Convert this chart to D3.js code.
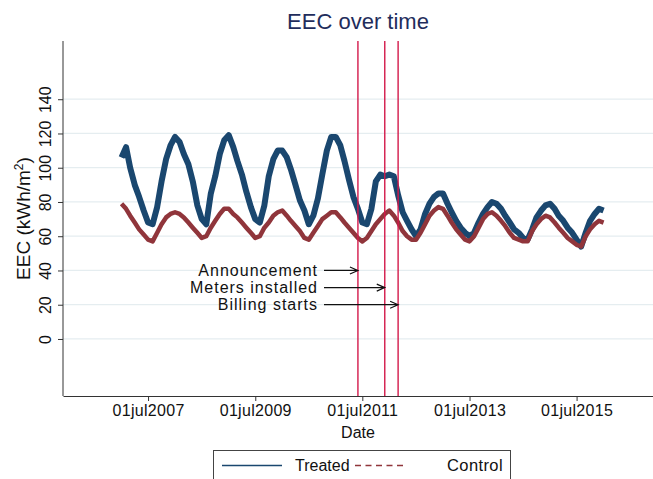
<!DOCTYPE html>
<html>
<head>
<meta charset="utf-8">
<script src="https://cdn.jsdelivr.net/npm/d3@7"></script>
<style>
  body { margin: 0; background: #fff; }
  svg { font-family: "Liberation Sans", Arial, sans-serif; }
</style>
</head>
<body>
<svg id="chart" width="653" height="479"></svg>
<script>
// Monthly EEC readings (kWh/m2), first of each month from Jan 2007 to Jan 2016
const startYear = 2007;
const treated = [
    106, 112, 100, 90, 83, 75, 68, 67, 77, 92, 105, 113,
    118, 115, 108, 102, 92, 78, 70, 67, 85, 95, 108, 116,
    119, 112, 104, 96, 86, 77, 70, 68, 78, 95, 105, 110,
    110, 106, 99, 90, 81, 75, 67, 72, 82, 96, 110, 118,
    118, 113, 104, 93, 83, 76, 68, 67, 76, 92, 96, 95,
    96, 95, 84, 74, 69, 64, 60, 64, 73, 79, 83, 85,
    85, 79, 74, 69, 65, 62, 60, 62, 68, 73, 77, 80,
    79, 76, 72, 68, 64, 62, 59, 58, 64, 71, 75, 78,
    79, 76, 72, 69, 65, 62, 58, 54, 62, 69, 73, 76,
    75
];
const control = [
    79, 76, 72, 68, 64, 61, 58, 57, 62, 67, 71, 73,
    74, 73, 71, 68, 65, 62, 59, 60, 65, 69, 73, 76,
    76, 73, 71, 68, 65, 62, 59, 60, 65, 68, 72, 74,
    75, 72, 69, 66, 63, 59, 58, 62, 66, 70, 72, 74,
    74, 71, 68, 65, 62, 59, 57, 59, 63, 67, 70, 73,
    75, 72, 68, 63, 60, 58, 58, 62, 67, 72, 75, 77,
    76, 72, 68, 64, 61, 58, 57, 60, 65, 70, 73, 74,
    72, 69, 66, 62, 59, 58, 57, 57, 63, 67, 70, 72,
    71, 68, 65, 62, 59, 57, 55, 54, 60, 64, 67, 69,
    68
];

// Axis ticks
const yTicks = [0, 20, 40, 60, 80, 100, 120, 140];
const xTickYears = [2007, 2009, 2011, 2013, 2015];

// Policy events: label, date, arrow height in EEC units
const events = [
    { label: "Announcement", date: [2011, 5, 1], level: 40 },
    { label: "Meters installed", date: [2011, 11, 1], level: 30 },
    { label: "Billing starts", date: [2012, 2, 1], level: 20 }
];

const svg = d3.select("#chart");
const plot = { left: 63, right: 653, top: 41, bottom: 396 };

// x scale: calendar dates across the plot region
const x = d3.scaleUtc()
    .domain([new Date(Date.UTC(2005, 10, 28)), new Date(Date.UTC(2016, 11, 3))])
    .range([plot.left, plot.right]);
const y = d3.scaleLinear().domain([-33.3, 174]).range([plot.bottom, plot.top]);

const navy = "#1a476f", maroon = "#90353b", red = "#d3194a";

const monthly = (vals) => vals.map((v, i) => ({ date: new Date(Date.UTC(startYear, i, 1)), v }));

// Title
svg.append("text")
    .attr("x", (plot.left + plot.right) / 2).attr("y", 29)
    .attr("text-anchor", "middle")
    .attr("fill", "#1f2d5c")
    .style("font-size", "22px")
    .text("EEC over time");

// Grid lines
svg.append("g")
    .selectAll("line")
    .data(yTicks)
    .join("line")
    .attr("x1", plot.left).attr("x2", plot.right)
    .attr("y1", d => y(d)).attr("y2", d => y(d))
    .attr("stroke", "#e5edf0").attr("stroke-width", 1.2);

// y axis with vertical labels
const yAxis = svg.append("g")
    .attr("transform", `translate(${plot.left},0)`)
    .call(d3.axisLeft(y).tickValues(yTicks).tickSize(5).tickSizeOuter(0));
yAxis.select(".domain").remove();
yAxis.selectAll(".tick line").attr("stroke", "#333");
yAxis.selectAll(".tick text")
    .attr("x", 0).attr("dy", 0)
    .attr("transform", "translate(-12,0) rotate(-90)")
    .attr("text-anchor", "middle")
    .attr("fill", "#111")
    .style("font-size", "16px");
svg.append("line")
    .attr("x1", plot.left).attr("x2", plot.left)
    .attr("y1", plot.top).attr("y2", plot.bottom)
    .attr("stroke", "#333");

// x axis
const fmt = d3.utcFormat("%d%b%Y");
const xAxis = svg.append("g")
    .attr("transform", `translate(0,${plot.bottom})`)
    .call(d3.axisBottom(x)
        .tickValues(xTickYears.map(yr => new Date(Date.UTC(yr, 6, 1))))
        .tickFormat(d => fmt(d).toLowerCase())
        .tickSize(5).tickSizeOuter(0));
xAxis.select(".domain").attr("stroke", "#333");
xAxis.selectAll(".tick line").attr("stroke", "#333");
xAxis.selectAll(".tick text")
    .attr("y", 9)
    .attr("fill", "#111")
    .style("font-size", "16px")
    .style("letter-spacing", "0.3px");

// Axis titles
svg.append("text")
    .attr("x", (plot.left + plot.right) / 2).attr("y", 438)
    .attr("text-anchor", "middle")
    .attr("fill", "#111")
    .style("font-size", "16px")
    .text("Date");

const yTitle = svg.append("text")
    .attr("transform", `translate(30,${(plot.top + plot.bottom) / 2}) rotate(-90)`)
    .attr("text-anchor", "middle")
    .attr("fill", "#111")
    .style("font-size", "19px");
yTitle.append("tspan").text("EEC (kWh/m");
yTitle.append("tspan").attr("dy", -7).style("font-size", "12px").text("2");
yTitle.append("tspan").attr("dy", 7).text(")");

// Series
const line = d3.line().x(d => x(d.date)).y(d => y(d.v));
svg.append("path")
    .datum(monthly(treated))
    .attr("d", line)
    .attr("fill", "none")
    .attr("stroke", navy).attr("stroke-width", 6)
    .attr("stroke-linejoin", "round");
svg.append("path")
    .datum(monthly(control))
    .attr("d", line)
    .attr("fill", "none")
    .attr("stroke", maroon).attr("stroke-width", 4.5)
    .attr("stroke-linejoin", "round");

// Event lines, labels and arrows
events.forEach(e => {
    const ex = x(new Date(Date.UTC(...e.date)));
    const ey = y(e.level);
    svg.append("line")
        .attr("x1", ex).attr("x2", ex)
        .attr("y1", plot.top).attr("y2", plot.bottom)
        .attr("stroke", red).attr("stroke-width", 1.4);
    svg.append("text")
        .attr("x", 318).attr("y", ey + 5.5)
        .attr("text-anchor", "end")
        .attr("fill", "#111")
        .style("font-size", "16px")
        .style("letter-spacing", "1px")
        .text(e.label);
    svg.append("path")
        .attr("d", `M324,${ey}H${ex}M${ex - 8},${ey - 3.5}L${ex},${ey}L${ex - 8},${ey + 3.5}`)
        .attr("fill", "none")
        .attr("stroke", "#111").attr("stroke-width", 1.2);
});

// Legend
const legend = svg.append("g");
legend.append("rect")
    .attr("x", 213.5).attr("y", 450.5)
    .attr("width", 297).attr("height", 40)
    .attr("fill", "#fff").attr("stroke", "#444");
legend.append("line")
    .attr("x1", 222).attr("x2", 282).attr("y1", 465.5).attr("y2", 465.5)
    .attr("stroke", navy).attr("stroke-width", 1.6);
legend.append("text")
    .attr("x", 295).attr("y", 471)
    .attr("fill", "#111").style("font-size", "16px")
    .text("Treated");
legend.append("line")
    .attr("x1", 355).attr("x2", 404).attr("y1", 465.5).attr("y2", 465.5)
    .attr("stroke", maroon).attr("stroke-width", 1.6)
    .attr("stroke-dasharray", "6,4.5");
legend.append("text")
    .attr("x", 447).attr("y", 471)
    .attr("fill", "#111").style("font-size", "16.5px")
    .style("letter-spacing", "0.4px")
    .text("Control");
</script>
</body>
</html>
